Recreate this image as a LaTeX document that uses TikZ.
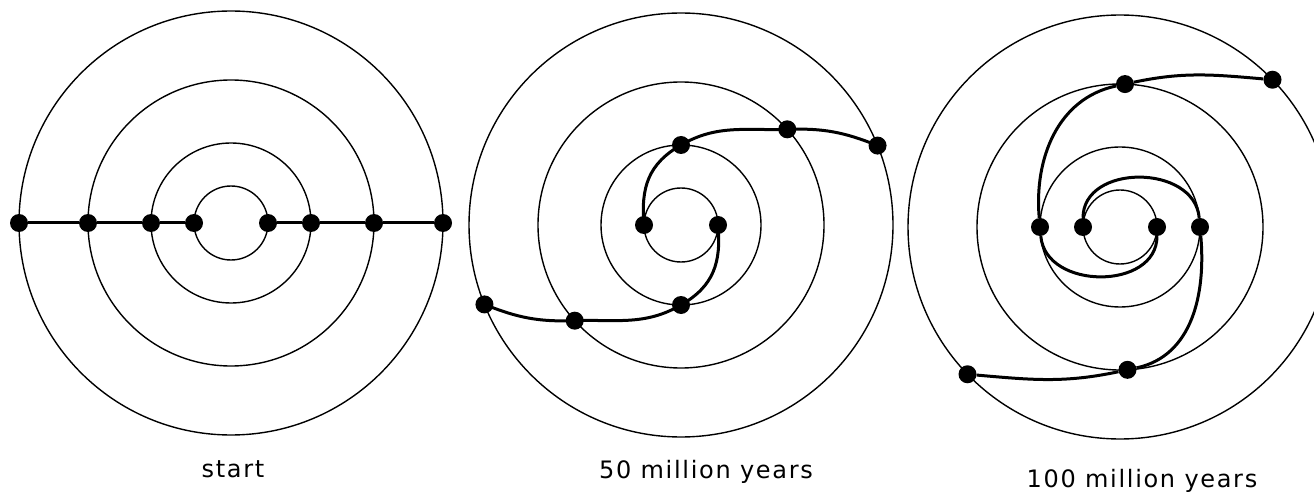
\documentclass[tikz,border=0pt]{standalone}
\usepackage{fontspec}
\usepackage{tikz}
\newfontfamily\yearsfont{DejaVu Sans}[LetterSpace=7]

\begin{document}
\begin{tikzpicture}[
    x=1pt, y=1pt,
    orbit/.style={line width=1.4pt},
    arm/.style={line width=3pt},
    star/.style={circle, fill, inner sep=0pt, minimum size=18pt},
    years/.style={font=\fontsize{24}{28}\selectfont\yearsfont, anchor=base},
]
    \useasboundingbox (0,0) rectangle (1314,496);
    \clip (0,0) rectangle (1314,496);

    % Panel 1: start
    \begin{scope}[shift={(231,273)}]
        \foreach \r in {212,143,80,37}
            \draw[orbit] (0,0) circle (\r);
        \node[star] (startL1) at (180:37) {};
        \node[star] (startL2) at (180:80) {};
        \node[star] (startL3) at (180:143) {};
        \node[star] (startL4) at (180:212) {};
        \node[star] (startR1) at (0:37) {};
        \node[star] (startR2) at (0:80) {};
        \node[star] (startR3) at (0:143) {};
        \node[star] (startR4) at (0:212) {};
        \draw[arm] (startL4) -- (startL3) -- (startL2) -- (startL1);
        \draw[arm] (startR1) -- (startR2) -- (startR3) -- (startR4);
    \end{scope}

    % Panel 2: 50 million years
    \begin{scope}[shift={(681,271)}]
        \foreach \r in {212,143,80,37}
            \draw[orbit] (0,0) circle (\r);
        \node[star] (midA1) at (180:37) {};
        \node[star] (midA2) at (90:80) {};
        \node[star] (midA3) at (42:143) {};
        \node[star] (midA4) at (22:212) {};
        \node[star] (midB1) at (0:37) {};
        \node[star] (midB2) at (270:80) {};
        \node[star] (midB3) at (222:143) {};
        \node[star] (midB4) at (202:212) {};
        \draw[arm] (midA1.center) to[out=95,in=210,looseness=1.1] (midA2.center)
            to[out=30,in=182] (midA3.center) to[out=2,in=158] (midA4.center);
        \draw[arm] (midB1.center) to[out=275,in=30,looseness=1.1] (midB2.center)
            to[out=210,in=2] (midB3.center) to[out=182,in=338] (midB4.center);
    \end{scope}

    % Panel 3: 100 million years
    \begin{scope}[shift={(1120,269)}]
        \foreach \r in {212,143,80,37}
            \draw[orbit] (0,0) circle (\r);
        \node[star] (lateA1) at (180:37) {};
        \node[star] (lateA2) at (0:80) {};
        \node[star] (lateA3) at (273:143) {};
        \node[star] (lateA4) at (224:212) {};
        \node[star] (lateB1) at (0:37) {};
        \node[star] (lateB2) at (180:80) {};
        \node[star] (lateB3) at (88:143) {};
        \node[star] (lateB4) at (44:212) {};
        \draw[arm] (lateA1) to[out=90,in=95,looseness=1.2] (lateA2)
            to[out=275,in=12] (lateA3) to[out=192,in=355] (lateA4);
        \draw[arm] (lateB1) to[out=270,in=275,looseness=1.2] (lateB2)
            to[out=95,in=192] (lateB3) to[out=12,in=175] (lateB4);
    \end{scope}

    % Captions
    \node[years] (capStart) at (233,19) {start};
    \node[years] (capMid) at (706,18) {50 million years};
    \node[years] (capLate) at (1142,9) {100 million years};
\end{tikzpicture}
\end{document}
